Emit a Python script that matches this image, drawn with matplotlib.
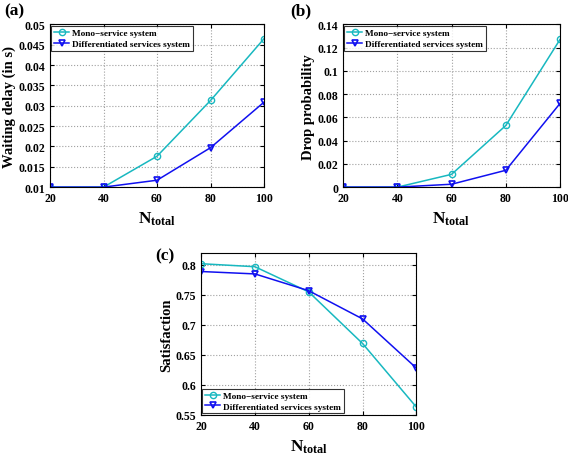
import matplotlib
matplotlib.use('Agg')
import matplotlib.pyplot as plt

plt.rcParams['font.family'] = 'Liberation Serif'
plt.rcParams['font.weight'] = 'bold'
plt.rcParams['mathtext.fontset'] = 'custom'
plt.rcParams['mathtext.rm'] = 'Liberation Serif:bold'
plt.rcParams['mathtext.bf'] = 'Liberation Serif:bold'
plt.rcParams['mathtext.it'] = 'Liberation Serif:bold'

n_total = [20, 40, 60, 80, 100]

delay_mono = [0.01, 0.01, 0.0176, 0.0313, 0.0465]
delay_diff = [0.01, 0.01, 0.0117, 0.0197, 0.0309]

drop_mono = [0.0, 0.0, 0.011, 0.053, 0.127]
drop_diff = [0.0, 0.0, 0.0025, 0.0145, 0.072]

sat_mono = [0.802, 0.797, 0.755, 0.669, 0.563]
sat_diff = [0.789, 0.785, 0.757, 0.710, 0.628]

labels = ['Mono\u2212service system', 'Differentiated services system']
c_mono = '#18b8c0'
c_diff = '#1010f0'

W, H = 568, 460
fig = plt.figure(figsize=(W / 100, H / 100), dpi=100)


def panel(rect, y1, y2, ylim, yticks, yticklabels, ylabel, tag, tagxy, legloc):
    ax = fig.add_axes(rect)
    ax.plot(n_total, y1, color=c_mono, marker='o', ms=4.5, mfc='none', lw=1.1, label=labels[0])
    ax.plot(n_total, y2, color=c_diff, marker='v', ms=5, mfc='none', mew=1.2, lw=1.1, label=labels[1])
    ax.set_xlim(20, 100)
    ax.set_ylim(*ylim)
    ax.set_xticks(n_total)
    ax.set_yticks(yticks)
    ax.set_yticklabels(yticklabels)
    ax.tick_params(direction='in', top=True, right=True, labelsize=8.5, length=3)
    ax.grid(True, linestyle=':', color='#a0a0a0', lw=0.8)
    ax.set_xlabel(r'$\mathbf{N_{total}}$', fontsize=12.5, labelpad=4)
    ax.set_ylabel(ylabel, fontsize=10.5, fontweight='bold', labelpad=2)
    for s in ax.spines.values():
        s.set_linewidth(0.8)
    leg = ax.legend(loc=legloc, fontsize=6.7, frameon=True, fancybox=False,
                    edgecolor='black', borderpad=0.3, labelspacing=0.25,
                    handlelength=1.6, handletextpad=0.3, borderaxespad=0.15)
    leg.get_frame().set_linewidth(0.8)
    fig.text(tagxy[0] / W, 1 - tagxy[1] / H, tag, fontsize=12.5, fontweight='bold',
             ha='left', va='center')
    return ax


panel([0.088, 0.591, 0.377, 0.354], delay_mono, delay_diff, (0.01, 0.05),
      [0.01, 0.015, 0.02, 0.025, 0.03, 0.035, 0.04, 0.045, 0.05],
      ['0.01', '0.015', '0.02', '0.025', '0.03', '0.035', '0.04', '0.045', '0.05'],
      'Waiting delay (in s)', '(a)', (4, 11), 'upper left')

panel([0.604, 0.591, 0.382, 0.354], drop_mono, drop_diff, (0, 0.14),
      [0, 0.02, 0.04, 0.06, 0.08, 0.1, 0.12, 0.14],
      ['0', '0.02', '0.04', '0.06', '0.08', '0.1', '0.12', '0.14'],
      'Drop probability', '(b)', (290, 11), 'upper left')

panel([0.354, 0.096, 0.379, 0.352], sat_mono, sat_diff, (0.55, 0.82),
      [0.55, 0.6, 0.65, 0.7, 0.75, 0.8],
      ['0.55', '0.6', '0.65', '0.7', '0.75', '0.8'],
      'Satisfaction', '(c)', (155, 256), 'lower left')

fig.savefig('out.png', dpi=100)
